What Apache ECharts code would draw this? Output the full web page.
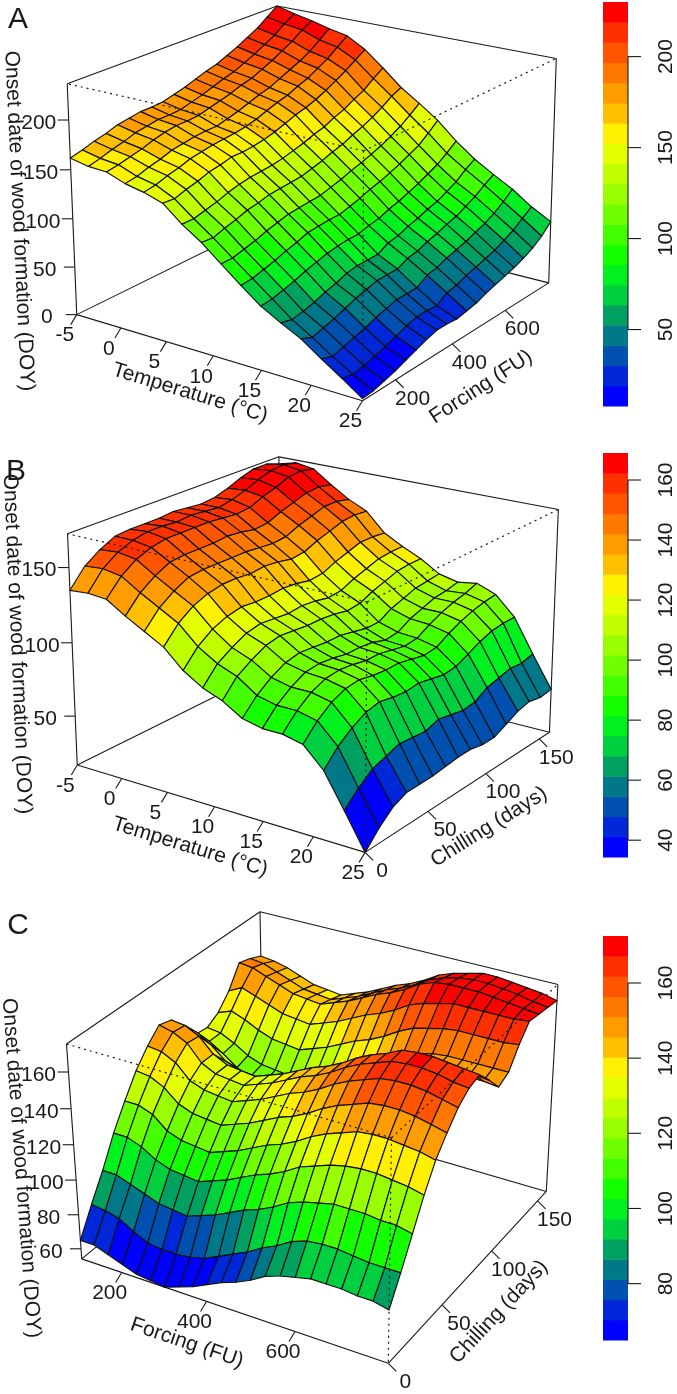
<!DOCTYPE html>
<html><head><meta charset="utf-8">
<style>html,body{margin:0;padding:0;background:#fff}#c{width:677px;height:1394px}</style>
<script src="https://cdn.jsdelivr.net/npm/echarts@6/dist/echarts.min.js"></script>
</head><body><div id="c"></div>
<script>
// ---- tick labels ----
const tempTicks=[-5,0,5,10,15,20,25];
const forcingTicksAC=[200,400,600];
const chillTicksB=[0,50,100,150];
const chillTicksC=[0,50,100,150];
const zTicksA=[0,50,100,150,200];
const zTicksB=[50,100,150];
const zTicksC=[60,80,100,120,140,160];
const barTicksA=[50,100,150,200];
const barTicksB=[40,60,80,100,120,140,160];
const barTicksC=[80,100,120,140,160];
const levelColors=['#0000ff','#0028d8','#0050b0','#007888','#00a060','#00d040','#00f020','#14ff00','#44ff00','#70ff00','#99ff00','#c0ff00','#e4ff00','#fff000','#ffc000','#ff9c00','#ff7800','#ff5500','#ff3000','#ff0000'];
// ---- surface values: rows run along the front-to-back axis, each row along the left-to-front axis ----
const surfaceA=[
[162,158,157,150,146,140,124,111,95,79,64,53,43,29,16,2],
[165,161,159,152,148,139,124,110,95,80,65,50,38,25,13,3],
[169,165,162,156,152,143,127,114,98,83,68,52,41,28,15,6],
[172,168,165,159,155,146,130,117,101,86,71,55,44,31,18,9],
[176,172,169,163,159,150,134,121,105,90,75,59,48,34,21,13],
[178,174,172,165,161,152,137,123,108,93,78,62,52,38,25,17],
[180,176,174,167,163,155,139,126,111,97,81,66,55,41,29,21],
[180,176,174,168,164,155,140,127,112,98,83,68,58,44,32,24],
[181,177,175,168,165,156,141,128,113,99,84,68,58,44,32,24],
[184,180,178,171,167,158,143,129,114,99,84,68,58,44,31,23],
[187,183,181,174,170,161,146,132,117,102,87,74,63,51,38,25],
[191,187,184,178,174,165,149,135,120,105,89,76,65,53,40,27],
[195,191,188,182,178,169,153,139,124,109,93,80,69,57,44,31],
[198,194,191,185,181,172,156,142,127,112,96,83,72,60,47,34],
[203,199,196,190,186,176,161,147,131,116,100,87,76,63,50,37],
[208,204,201,195,190,181,165,151,135,120,104,90,79,67,53,40],
[214,210,207,200,196,187,171,156,140,125,109,95,84,71,58,44],
[220,216,213,206,202,193,176,162,146,130,114,100,89,76,63,49],
[228,224,221,214,210,200,184,169,153,138,121,108,96,83,70,56],
[236,231,227,222,218,207,191,174,161,147,129,114,102,91,77,66]];
const surfaceB=[
[135,136,135,127,120,113,101,93,88,80,77,77,74,61,39,16],
[147,148,146,138,131,124,112,104,99,90,87,87,84,71,48,26],
[154,155,153,145,138,131,119,110,105,97,94,94,91,78,55,34],
[159,159,157,150,143,135,123,115,110,102,99,98,95,83,58,38],
[160,161,159,151,144,137,125,117,112,104,100,99,96,85,61,38],
[160,161,159,151,144,137,124,116,111,103,99,98,94,83,60,38],
[160,160,159,151,144,136,124,115,110,102,97,96,93,82,59,39],
[161,161,159,152,144,137,125,116,110,102,97,96,93,83,62,40],
[160,160,158,151,143,136,124,115,109,100,96,94,91,81,60,40],
[159,159,157,149,142,134,122,113,107,98,93,92,89,79,58,38],
[160,161,158,150,143,135,123,114,108,98,94,93,90,80,59,38],
[163,164,162,154,147,139,127,118,112,103,99,98,95,84,64,42],
[167,168,165,157,150,142,130,121,115,106,102,102,99,88,66,46],
[170,171,169,160,153,145,133,124,118,109,105,105,102,91,68,48],
[170,172,170,161,153,146,133,125,119,110,106,107,104,92,67,46],
[167,170,168,159,151,145,132,125,119,111,108,110,105,92,69,47]];
const surfaceC=[
[65,65,62,59,56,55,54,57,60,64,68,71,75,80,83,85,87,87,87,86,86,84],
[80,79,77,72,68,67,67,68,70,74,78,82,87,91,96,99,100,100,99,98,98,98],
[94,94,91,88,85,84,83,86,89,93,97,100,104,109,112,114,116,116,116,115,115,113],
[110,110,107,102,99,98,97,100,103,107,111,114,118,123,126,129,131,132,132,131,130,128],
[123,123,120,113,110,109,108,111,114,118,122,125,129,134,138,141,144,145,145,144,143,141],
[135,134,130,123,120,119,118,121,124,128,132,135,139,144,148,151,154,155,155,154,152,150],
[144,143,139,131,128,127,126,129,132,136,140,143,147,152,156,159,162,163,163,162,160,158],
[151,149,145,136,132,131,130,133,136,140,144,147,151,156,160,163,166,167,167,166,164,163],
[149,148,144,136,132,131,130,133,136,140,144,147,151,156,160,163,167,168,168,167,166,165],
[141,139,134,127,124,123,122,125,128,132,136,139,143,148,152,155,158,160,160,159,158,157],
[131,129,124,118,115,114,113,116,119,123,127,130,134,139,143,146,149,150,150,149,149,148],
[130,129,125,120,117,116,115,118,121,125,129,132,136,141,145,148,150,151,151,151,151,151],
[134,137,134,130,127,126,125,128,131,135,139,142,146,151,155,157,159,160,160,160,160,161],
[142,146,143,140,137,136,135,138,141,145,149,152,156,161,164,166,168,168,168,168,168,169],
[154,153,150,147,144,143,142,145,148,152,156,159,163,168,171,172,172,172,171,170,169,168],
[152,151,148,145,142,141,140,143,146,150,154,157,161,166,169,171,172,172,171,170,168,167],
[149,148,146,143,140,139,138,141,144,148,152,155,159,164,167,169,171,171,170,169,168,166]];

const FONT='"Liberation Sans", Arial, sans-serif';
const INK='#1a1a1a';
const panels=[
 {letter:'A',letterAt:[18,20],surface:surfaceA,
  corners:{LB:[77,314],FB:[363,401],RB:[549,282],BB:[278,216],LT:[67,83],FT:[363,152],RT:[556,58],BT:[278,6]},
  zRange:[0,236],colorRange:[8,230],uRange:[-5,25],vRange:[90,775],
  uTicks:tempTicks,vTicks:forcingTicksAC,zTicks:zTicksA,
  uTitle:'Temperature (°C)',uTitleAt:[190,393],uTitleRot:17,
  vTitle:'Forcing (FU)',vTitleAt:[481,387],vTitleRot:33,
  yTitleAt:[19,221],yTitleRot:-87.3},
 {letter:'B',letterAt:[16,472],surface:surfaceB,
  corners:{LB:[77,766],FB:[365,852],RB:[549,733],BB:[281,663],LT:[68,534],FT:[367,601],RT:[559,510],BT:[278,457]},
  zRange:[16,172],colorRange:[34.4,169],uRange:[-5,25],vRange:[0,160],
  uTicks:tempTicks,vTicks:chillTicksB,zTicks:zTicksB,
  uTitle:'Temperature (°C)',uTitleAt:[190,847],uTitleRot:17,
  vTitle:'Chilling (days)',vTitleAt:[489,827],vTitleRot:32,
  yTitleAt:[17,644],yTitleRot:-87.5},
 {letter:'C',letterAt:[18,926],surface:surfaceC,
  corners:{LB:[81,1259],FB:[388,1363],RB:[546,1192],BB:[265,1109],LT:[67,1044],FT:[392,1138],RT:[558,984],BT:[259,912]},
  zRange:[54,175],colorRange:[65,172.5],uRange:[103,802],vRange:[0,160],
  uTicks:forcingTicksAC,vTicks:chillTicksC,zTicks:zTicksC,
  uTitle:'Forcing (FU)',uTitleAt:[187,1343],uTitleRot:18.7,
  vTitle:'Chilling (days)',vTitleAt:[499,1312],vTitleRot:47,
  yTitleAt:[21,1168],yTitleRot:-85.8}
];

// Fit a projective camera to the eight box corners (least squares).
function fitCamera(c){
  const pts=[[0,0,0,c.LB],[1,0,0,c.FB],[1,1,0,c.RB],[0,1,0,c.BB],[0,0,1,c.LT],[1,0,1,c.FT],[1,1,1,c.RT],[0,1,1,c.BT]];
  const A=[],b=[];
  pts.forEach(([X,Y,Z,[x,y]])=>{
    A.push([X,Y,Z,1,0,0,0,0,-x*X,-x*Y,-x*Z]);b.push(x);
    A.push([0,0,0,0,X,Y,Z,1,-y*X,-y*Y,-y*Z]);b.push(y);
  });
  const n=11,M=[];
  for(let r=0;r<n;r++){const row=[];for(let k=0;k<n;k++){let s=0;A.forEach(a=>s+=a[r]*a[k]);row.push(s);}
    let s=0;A.forEach((a,q)=>s+=a[r]*b[q]);row.push(s);M.push(row);}
  for(let p=0;p<n;p++){let m=p;for(let r=p+1;r<n;r++)if(Math.abs(M[r][p])>Math.abs(M[m][p]))m=r;
    [M[p],M[m]]=[M[m],M[p]];
    for(let r=0;r<n;r++){if(r===p)continue;const f=M[r][p]/M[p][p];for(let k=p;k<=n;k++)M[r][k]-=f*M[p][k];}}
  const h=M.map((row,i)=>row[n]/row[i]);
  return (X,Y,Z)=>{const w=h[8]*X+h[9]*Y+h[10]*Z+1;
    return [(h[0]*X+h[1]*Y+h[2]*Z+h[3])/w,(h[4]*X+h[5]*Y+h[6]*Z+h[7])/w];};
}
panels.forEach(p=>{p.cam=fitCamera(p.corners);});

function label(api,xy,text,size,rot){
  const c=api.coord(xy);
  return {type:'text',x:c[0],y:c[1],rotation:(rot||0)*Math.PI/180,silent:true,
    style:{x:0,y:0,text:String(text),fill:INK,fontSize:size,fontFamily:FONT,align:'center',verticalAlign:'middle'}};
}
function seg(api,a,b,dotted){
  const p=api.coord(a),q=api.coord(b);
  return {type:'line',silent:true,shape:{x1:p[0],y1:p[1],x2:q[0],y2:q[1]},
    style:{stroke:INK,lineWidth:dotted?1.2:1.1,lineDash:dotted?[2,4]:null,fill:null}};
}
const series=[];
panels.forEach((p,pi)=>{
  const cam=p.cam,n=p.surface[0].length,m=p.surface.length;
  const Zn=z=>(z-p.zRange[0])/(p.zRange[1]-p.zRange[0]);
  const U=v=>(v-p.uRange[0])/(p.uRange[1]-p.uRange[0]);
  const V=v=>(v-p.vRange[0])/(p.vRange[1]-p.vRange[0]);
  series.push({type:'custom',coordinateSystem:'cartesian2d',xAxisIndex:0,yAxisIndex:0,z:2,silent:true,animation:false,
    data:[[0,0]],renderItem:(ps,api)=>{
      const P=(a,b,c)=>cam(a,b,c);
      return {type:'group',children:[
        seg(api,P(0,0,0),P(0,0,1)),seg(api,P(0,0,1),P(0,1,1)),seg(api,P(0,1,1),P(1,1,1)),seg(api,P(1,1,1),P(1,1,0)),
        seg(api,P(0,0,0),P(0,1,0)),seg(api,P(0,1,0),P(1,1,0)),seg(api,P(0,1,0),P(0,1,1)),
        seg(api,P(0,0,0),P(1,0,0)),seg(api,P(1,0,0),P(1,1,0))]};
    }});
  const cells=[];
  for(let j=m-2;j>=0;j--)for(let i=0;i<n-1;i++)cells.push([i,j]);
  series.push({type:'custom',coordinateSystem:'cartesian2d',xAxisIndex:0,yAxisIndex:0,z:3,silent:true,animation:false,
    encode:{x:0,y:1},data:cells,renderItem:(ps,api)=>{
      const i=api.value(0),j=api.value(1),s=p.surface;
      const corner=(a,b)=>api.coord(cam(a/(n-1),b/(m-1),Zn(s[b][a])));
      const mean=(s[j][i]+s[j][i+1]+s[j+1][i]+s[j+1][i+1])/4;
      let lv=Math.floor((mean-p.colorRange[0])/(p.colorRange[1]-p.colorRange[0])*levelColors.length);
      lv=Math.max(0,Math.min(levelColors.length-1,lv));
      return {type:'polygon',silent:true,shape:{points:[corner(i,j),corner(i+1,j),corner(i+1,j+1),corner(i,j+1)]},
        style:{fill:levelColors[lv],stroke:'#111',lineWidth:1.15,lineJoin:'round'}};
    }});
  series.push({type:'custom',coordinateSystem:'cartesian2d',xAxisIndex:0,yAxisIndex:0,z:4,silent:true,animation:false,
    data:[[0,0]],renderItem:(ps,api)=>{
      const kids=[seg(api,cam(1,0,1),cam(0,0,1),true),seg(api,cam(1,0,1),cam(1,1,1),true),seg(api,cam(1,0,1),cam(1,0,0),true)];
      p.uTicks.forEach(t=>{const a=cam(U(t),0,0);
        kids.push(seg(api,a,[a[0]-6,a[1]+10]));kids.push(label(api,[a[0]-12,a[1]+21],t,21));});
      p.vTicks.forEach(t=>{const a=cam(1,V(t),0);
        kids.push(seg(api,a,[a[0]+8,a[1]+8]));kids.push(label(api,[a[0]+17,a[1]+19],t,21));});
      p.zTicks.forEach(t=>{const a=cam(0,0,Zn(t));
        kids.push(seg(api,a,[a[0]-11,a[1]]));kids.push(label(api,[a[0]-30,a[1]+3],t,21));});
      kids.push(label(api,p.uTitleAt,p.uTitle,21,-p.uTitleRot));
      kids.push(label(api,p.vTitleAt,p.vTitle,21,p.vTitleRot));
      kids.push(label(api,p.yTitleAt,'Onset date of wood formation (DOY)',21,p.yTitleRot));
      kids.push(label(api,p.letterAt,p.letter,30));
      return {type:'group',children:kids};
    }});
});

const bars=[{top:2,height:404,range:[8,230],ticks:barTicksA},{top:453,height:404,range:[34.4,169],ticks:barTicksB},{top:936,height:404,range:[65,172.5],ticks:barTicksC}];
const grids=[{left:0,top:0,width:677,height:1394}],xAxes=[{type:'value',min:0,max:677,show:false,gridIndex:0}],yAxes=[{type:'value',min:0,max:1394,inverse:true,show:false,gridIndex:0}];
bars.forEach((b,k)=>{
  grids.push({left:603,width:25,top:b.top,height:b.height});
  xAxes.push({type:'value',min:0,max:1,show:false,gridIndex:k+1});
  yAxes.push({type:'value',min:b.range[0],max:b.range[1],gridIndex:k+1,position:'right',splitLine:{show:false},
    axisLine:{show:false},axisTick:{show:false},
    axisLabel:{show:true,rotate:90,margin:28,customValues:b.ticks,color:INK,fontSize:21,fontFamily:FONT,showMinLabel:true,showMaxLabel:true,hideOverlap:false}});
  const levels=levelColors.map((c,i)=>[0,i]);
  const lo=b.range[0],st=(b.range[1]-b.range[0])/levelColors.length;
  series.push({type:'custom',xAxisIndex:k+1,yAxisIndex:k+1,z:2,silent:true,animation:false,encode:{x:0,y:1},data:levels,clip:false,
    renderItem:(ps,api)=>{const i=api.value(1);
      const a=api.coord([0,lo+i*st]),c=api.coord([1,lo+(i+1)*st]);
      return {type:'rect',silent:true,shape:{x:a[0],y:c[1],width:c[0]-a[0],height:a[1]-c[1]+0.5},style:{fill:levelColors[i]}};}});
  series.push({type:'custom',xAxisIndex:k+1,yAxisIndex:k+1,z:3,silent:true,animation:false,encode:{x:0,y:1},data:[[1,b.ticks[0]]],clip:false,
    renderItem:(ps,api)=>{const a=api.coord([1,b.ticks[0]]),c=api.coord([1,b.ticks[b.ticks.length-1]]);
      const kids=[{type:'line',silent:true,shape:{x1:a[0],y1:a[1],x2:c[0],y2:c[1]},style:{stroke:INK,lineWidth:1.1}}];
      b.ticks.forEach(t=>{const q=api.coord([1,t]);
        kids.push({type:'line',silent:true,shape:{x1:q[0],y1:q[1],x2:q[0]+13,y2:q[1]},style:{stroke:INK,lineWidth:1.1}});});
      return {type:'group',children:kids};}});
});
const chart=echarts.init(document.getElementById('c'),null,{renderer:'canvas',width:677,height:1394});
chart.setOption({animation:false,backgroundColor:'#fff',grid:grids,xAxis:xAxes,yAxis:yAxes,series:series});
</script></body></html>
